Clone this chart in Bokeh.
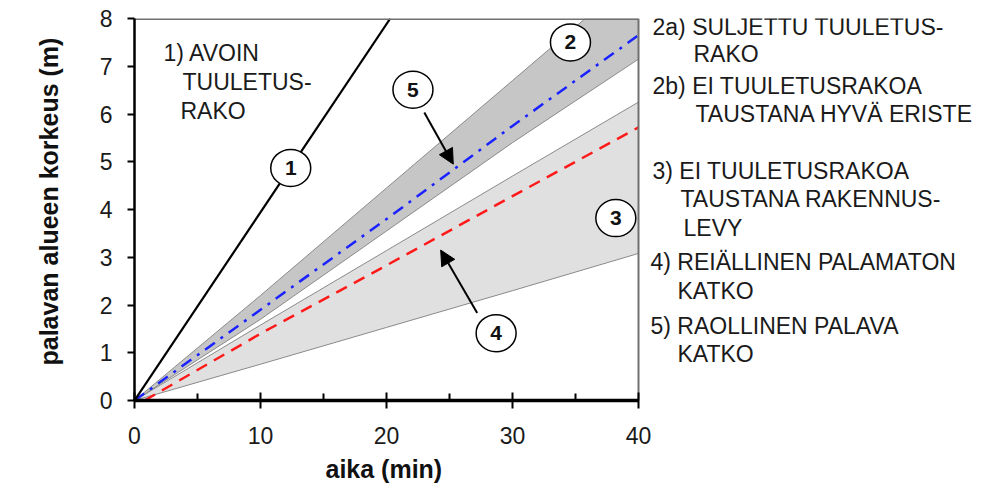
from bokeh.plotting import figure
from bokeh.models import Range1d, Label, Arrow, NormalHead, FixedTicker, Title
from bokeh.core.properties import value
from bokeh.embed import file_html
from bokeh.resources import INLINE

# ---------------- data ----------------
time_pts = [0, 10, 20, 30, 40]
line1_x = [0, 20.3]
line1_y = [0, 8]
band2_upper = [0, 2.2, 4.45, 6.7, 8.95]
band2_lower = [0, 1.7, 3.55, 5.4, 7.15]
line5_y = [0, 1.9, 3.8, 5.75, 7.65]
band3_upper = [0, 1.58, 3.14, 4.7, 6.25]
band3_lower = [0, 0.76, 1.53, 2.3, 3.08]
line4_x = [0.8, 10, 20, 30, 40]
line4_y = [0, 1.4, 2.83, 4.28, 5.72]

x_limits = [0, 40]
y_limits = [0, 8]
x_ticks = [0, 10, 20, 30, 40]
x_minor = [5, 15, 25, 35]
y_ticks = [0, 1, 2, 3, 4, 5, 6, 7, 8]

marker_labels = ["1", "2", "3", "4", "5"]
marker_x = [12.4, 34.6, 38.2, 28.7, 22.1]
marker_y = [4.87, 7.5, 3.82, 1.41, 6.51]

legend_lines = [
    "2a) SULJETTU TUULETUS-", "RAKO",
    "2b) EI TUULETUSRAKOA", "TAUSTANA HYVÄ ERISTE",
    "3) EI TUULETUSRAKOA", "TAUSTANA RAKENNUS-", "LEVY",
    "4) REIÄLLINEN PALAMATON", "KATKO",
    "5) RAOLLINEN PALAVA", "KATKO",
]
inner_lines = ["1) AVOIN", "TUULETUS-", "RAKO"]

FONT = "Liberation Sans"

# page-pixel helpers (frame: x 134.. , y 18..400 on page)
def dx(px):
    return (px - 134) / 12.6

def dy(py):
    return (400 - py) / 47.75

# ---------------- figure ----------------
p = figure(width=986, height=495, x_range=Range1d(0, dx(982)), y_range=Range1d(y_limits[0], y_limits[1]),
           output_backend="svg", toolbar_location=None,
           min_border_left=134, min_border_right=4, min_border_top=18, min_border_bottom=95)
p.xgrid.visible = False
p.ygrid.visible = False
p.outline_line_color = None
p.background_fill_color = "white"
p.border_fill_color = "white"

# bands
p.varea(x=time_pts, y1=band3_lower, y2=band3_upper, fill_color="#e0e0e0")
p.varea(x=time_pts, y1=band2_lower, y2=band2_upper, fill_color="#c6c6c6")
for yy in (band3_lower, band3_upper, band2_lower, band2_upper):
    p.line(time_pts, yy, line_color="#8a8a8a", line_width=1)

# curves
p.line(line4_x, line4_y, line_color="#ff1a1a", line_width=2.5, line_dash="12 8")
p.line(time_pts, line5_y, line_color="#1a22ff", line_width=2.5, line_dash="12 7 3 7")
p.line(line1_x, line1_y, line_color="black", line_width=2.2)

# plot-area border (top and right)
p.line(x_limits, [y_limits[1], y_limits[1]], line_color="#707070", line_width=3)
p.line([x_limits[1], x_limits[1]], y_limits, line_color="#707070", line_width=2)

# arrows
p.add_layout(Arrow(end=NormalHead(size=15, fill_color="black", line_color="black"),
                   x_start=23.0, y_start=6.03, x_end=25.3, y_end=4.95,
                   line_color="black", line_width=2))
p.add_layout(Arrow(end=NormalHead(size=15, fill_color="black", line_color="black"),
                   x_start=27.2, y_start=1.83, x_end=24.3, y_end=3.15,
                   line_color="black", line_width=2))

# numbered circles
p.ellipse(x=marker_x, y=marker_y, width=40, height=37, width_units="screen",
          height_units="screen", fill_color="white", line_color="black", line_width=1.5)
p.text(x=marker_x, y=marker_y, text=marker_labels, text_font=value(FONT),
       text_font_style="bold", text_font_size="21px", text_align="center",
       text_baseline="middle", text_color="#111111")

# inner text
inner_pos = [(163, 52), (182, 81), (180, 110)]
for t, (px, py) in zip(inner_lines, inner_pos):
    p.add_layout(Label(x=dx(px), y=dy(py), text=t, text_font=FONT, text_font_size="23px",
                       text_baseline="middle", text_align="left", text_color="#1a1a1a"))

# right-side legend text
legend_pos = [(652, 26), (693, 53), (652, 85), (695, 113), (652, 170), (680, 198),
              (683, 227), (650, 261), (677, 290), (650, 325), (677, 353)]
for t, (px, py) in zip(legend_lines, legend_pos):
    p.add_layout(Label(x=dx(px), y=dy(py), text=t, text_font=FONT, text_font_size="23px",
                       text_baseline="middle", text_align="left", text_color="#1a1a1a"))

# axis titles (as panel titles so they can be positioned under the 0..40 part)
p.add_layout(Title(text="palavan alueen korkeus (m)", align="left", offset=35, standoff=64,
                   vertical_align="top", text_baseline="bottom",
                   text_font=FONT, text_font_size="25px", text_font_style="bold",
                   text_color="#111111"), "left")
p.add_layout(Title(text="aika (min)", align="left", offset=191, standoff=12,
                   text_font=FONT, text_font_size="25px", text_font_style="bold",
                   text_color="#111111"), "below")

# axes
xa = p.xaxis[0]
xa.bounds = (x_limits[0], x_limits[1])
xa.ticker = FixedTicker(ticks=x_ticks, minor_ticks=x_minor)
xa.axis_line_width = 3.5
xa.axis_line_color = "black"
xa.major_tick_line_color = "black"
xa.major_tick_line_width = 2
xa.major_tick_in = 8
xa.major_tick_out = 8
xa.minor_tick_line_color = "black"
xa.minor_tick_line_width = 2
xa.minor_tick_in = 7
xa.minor_tick_out = 0
xa.major_label_text_font = FONT
xa.major_label_text_font_size = "23px"
xa.major_label_text_color = "#1a1a1a"
xa.major_label_standoff = 18

ya = p.yaxis[0]
ya.ticker = FixedTicker(ticks=y_ticks)
ya.axis_line_width = 2.5
ya.axis_line_color = "black"
ya.major_tick_line_color = "black"
ya.major_tick_line_width = 2
ya.major_tick_in = 0
ya.major_tick_out = 7
ya.minor_tick_line_color = None
ya.major_label_text_font = FONT
ya.major_label_text_font_size = "23px"
ya.major_label_text_color = "#1a1a1a"
ya.major_label_standoff = 15

open("out.html", "w").write(file_html(p, INLINE))
